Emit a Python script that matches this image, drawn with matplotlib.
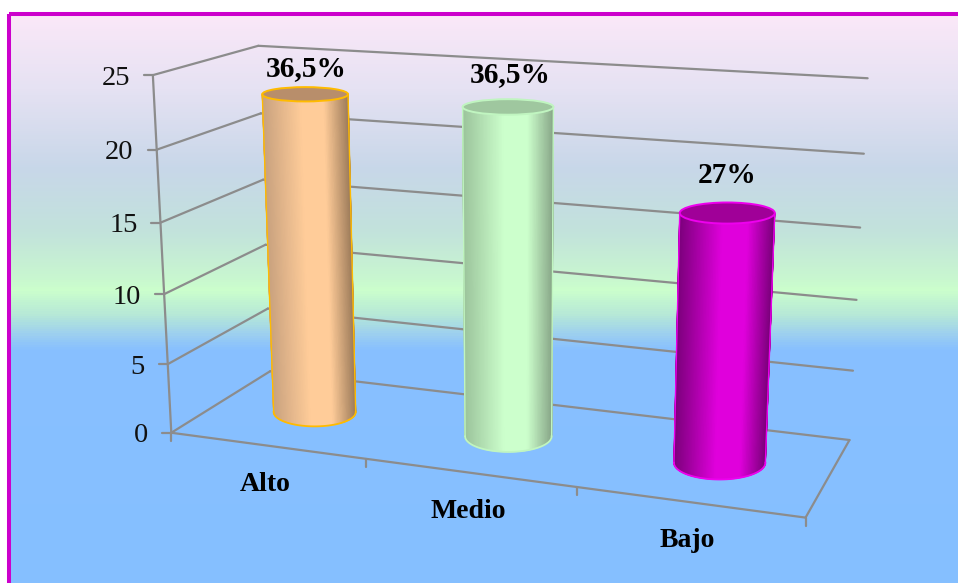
import numpy as np
import matplotlib
matplotlib.use("Agg")
import matplotlib.pyplot as plt
from matplotlib.colors import LinearSegmentedColormap
from matplotlib.patches import Ellipse, Rectangle

plt.rcParams['font.family'] = ['Liberation Serif', 'DejaVu Serif']

# ---- data ----
categories = ["Alto", "Medio", "Bajo"]
percentages = [36.5, 36.5, 27]
percent_labels = ["36,5%", "36,5%", "27%"]
respondents = 63
y_ticks = [0, 5, 10, 15, 20, 25]

W, H = 958, 583
GRID = "#8c8c8c"

# Corner points of the chart box: (category pos, value, depth) -> canvas pixel
box_world = [(0, 0, 0), (0, 25, 0), (0, 0, 1), (0, 25, 1), (3, 0, 0), (3, 0, 1), (3, 25, 1),
             (1, 0, 0), (2, 0, 0), (0, 5, 0), (0, 10, 0), (0, 15, 0), (0, 20, 0),
             (3, 5, 1), (3, 10, 1), (3, 15, 1), (3, 20, 1)]
box_pixel = [(172, 433), (153, 76), (270, 372), (258, 46), (805, 518), (850, 438), (868, 78),
             (365, 459), (577, 488), (168, 364), (164, 293), (160, 222), (157, 149),
             (853, 371), (856, 300), (860, 228), (864, 154)]


def fit_camera(world, pixel):
    rows = []
    for (a, b, c), (u, v) in zip(world, pixel):
        X = [a, b / 25, c, 1]
        u, v = u / 500, v / 500
        rows.append(X + [0, 0, 0, 0] + [-u * t for t in X])
        rows.append([0, 0, 0, 0] + X + [-v * t for t in X])
    return np.linalg.svd(np.array(rows))[2][-1].reshape(3, 4)


CAMERA = fit_camera(box_world, box_pixel)


def project(a, b, c):
    q = CAMERA @ np.array([a, b / 25, c, 1.0])
    return np.array([q[0] / q[2], q[1] / q[2]]) * 500


fig = plt.figure(figsize=(W / 100, H / 100), dpi=100, facecolor="white")
ax = fig.add_axes([0, 0, 1, 1])
ax.set_xlim(0, W)
ax.set_ylim(H, 0)
ax.axis("off")

# Panel: vertical colour wash and magenta frame
wash = LinearSegmentedColormap.from_list("wash", [
    (0.00, "#fbe8f8"), (0.13, "#e6e2f3"), (0.27, "#c8d7e9"), (0.38, "#c2e2dc"),
    (0.47, "#c9f8cf"), (0.485, "#ccffcc"), (0.53, "#b6e8d8"), (0.565, "#9ccff0"),
    (0.59, "#88c0ff"), (1.00, "#85bfff")])
ax.imshow(np.linspace(0, 1, 568)[:, None], cmap=wash, extent=(9, W, H, 13),
          aspect="auto", zorder=0, vmin=0, vmax=1)
ax.set_xlim(0, W)
ax.set_ylim(H, 0)
ax.add_patch(Rectangle((9, 13.5), W + 10, H + 10, fill=False, ec="#cc00cc", lw=2.9, zorder=1))


def seg(p, q, z=2, lw=1.6):
    ax.plot([p[0], q[0]], [p[1], q[1]], color=GRID, lw=lw, zorder=z, solid_capstyle="round")


# Walls, floor and ticks
for t in y_ticks:
    seg(project(0, t, 0), project(0, t, 1))
    seg(project(0, t, 1), project(3, t, 1))
    left = project(0, t, 0)
    seg(left, left + (-9, 0))
    ax.text(left[0] - 23, left[1] + 3, str(t), ha="right", va="center", fontsize=20.5,
            color="#111111", zorder=6)
seg(project(0, 0, 0), project(0, 25, 0))
seg(project(0, 0, 0), project(3, 0, 0))
seg(project(3, 0, 0), project(3, 0, 1))
for i in range(4):
    foot = project(i, 0, 0)
    seg(foot, foot + (0, 8))

# Cylinders: left rim, highlight, right rim, cap, outline
shades = [("#c9a27f", "#ffcc99", "#a07e5c", "#b88e6b", "#ffbb00"),
          ("#9cc49c", "#ccffcc", "#8aa98a", "#9fc79f", "#c0f5c0"),
          ("#7c007c", "#e000dc", "#7c007c", "#a00098", "#ee00ee")]
R_X = [0.22, 0.215, 0.21]
R_Z = 0.215
FOOT_BULGE = 1.05
label_gap = [26, 32, 38]
x_nudge = [0, 0, 2]
label_nudge = [1, 2, 0]

for i, (pct, shade) in enumerate(zip(percentages, shades)):
    value = pct * respondents / 100
    left_c, mid_c, right_c, cap_c, line_c = shade
    x0 = i + 0.5

    def extent(v):
        c = project(x0, v, 0.5) + (x_nudge[i], 0)
        hw = abs(project(x0 + R_X[i], v, 0.5)[0] - project(x0 - R_X[i], v, 0.5)[0]) / 2
        hh = abs(project(x0, v, 0.5 - R_Z)[1] - project(x0, v, 0.5 + R_Z)[1]) / 2
        return c, hw, hh

    top, w_t, h_t = extent(value)
    bot, w_b, h_b = extent(0)
    h_b *= FOOT_BULGE

    # Side wall as a mesh spanning the front half of both end ellipses
    theta = np.linspace(np.pi, 0, 90)
    s = np.linspace(0, 1, 2)[:, None]
    X = (1 - s) * (top[0] + w_t * np.cos(theta)) + s * (bot[0] + w_b * np.cos(theta))
    Y = (1 - s) * (top[1] + h_t * np.sin(theta)) + s * (bot[1] + h_b * np.sin(theta))
    ramp = LinearSegmentedColormap.from_list("ramp", [
        (0, left_c), (0.45, mid_c), (0.72, mid_c), (1, right_c)])
    u = (np.cos(theta) + 1) / 2
    ax.pcolormesh(X, Y, np.tile(u, (2, 1)), cmap=ramp, shading="gouraud",
                  vmin=0, vmax=1, zorder=3, rasterized=True)

    # Outline and end cap
    ax.plot(X[:, 0], Y[:, 0], color=line_c, lw=1.0, zorder=4)
    ax.plot(X[:, -1], Y[:, -1], color=line_c, lw=1.0, zorder=4)
    ax.plot(X[1], Y[1], color=line_c, lw=1.3, zorder=4)
    ax.add_patch(Ellipse(top, 2 * w_t, 2 * h_t, fc=cap_c, ec=line_c, lw=1.4, zorder=5))

    ax.text(top[0] + label_nudge[i], top[1] - label_gap[i], percent_labels[i], ha="center",
            va="center", fontsize=21.2, fontweight="bold", color="black", zorder=6)

    foot = project(x0, 0, 0)
    ax.text(foot[0] - 1, foot[1] + 39, categories[i], ha="center", va="center",
            fontsize=20, fontweight="bold", color="black", zorder=6)

fig.savefig("out.png", dpi=100)
